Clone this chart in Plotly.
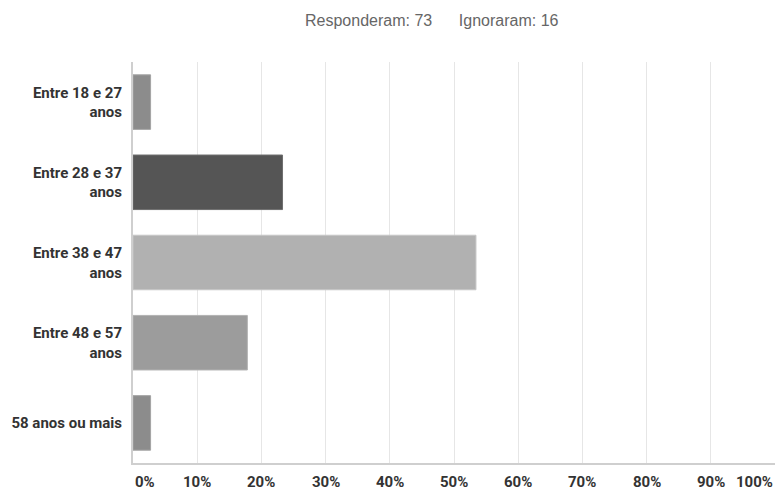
import plotly.graph_objects as go

categories = ["Entre 18 e 27<br>anos", "Entre 28 e 37<br>anos", "Entre 38 e 47<br>anos",
              "Entre 48 e 57<br>anos", "58 anos ou mais"]
values = [2.74, 23.29, 53.42, 17.81, 2.74]
bar_colors = ["#8c8c8c", "#555555", "#b1b1b1", "#9c9c9c", "#8c8c8c"]
border_colors = ["#a3a3a3", "#6e6e6e", "#c6c6c6", "#b2b2b2", "#a3a3a3"]
tick_vals = [0, 10, 20, 30, 40, 50, 60, 70, 80, 90, 100]
tick_text = ["0%", "10%", "20%", "30%", "40%", "50%", "60%", "70%", "80%", "90%", "100%"]
title_text = "Responderam: 73&nbsp;&nbsp;&nbsp;&nbsp;&nbsp;&nbsp;Ignoraram: 16"

fig = go.Figure()
fig.add_trace(go.Bar(
    x=values, y=categories, orientation="h",
    marker=dict(color=bar_colors, line=dict(color=border_colors, width=1)),
    width=0.68, hoverinfo="skip",
))

fig.update_layout(
    width=776, height=494,
    margin=dict(l=133, r=1, t=62, b=31, autoexpand=False),
    paper_bgcolor="white", plot_bgcolor="white",
    showlegend=False,
    font=dict(family="Roboto, Arial, sans-serif", color="#333333"),
)

fig.update_xaxes(
    range=[0, 100], tickvals=tick_vals, showticklabels=False,
    showgrid=True, gridcolor="#e6e6e6", gridwidth=1,
    zeroline=False, showline=True, linecolor="#cfcfcf", linewidth=2,
    fixedrange=True,
)
fig.update_yaxes(
    categoryorder="array", categoryarray=categories[::-1],
    autorange=False, range=[-0.5, 4.5],
    showgrid=False, zeroline=False, showline=True, linecolor="#cfcfcf", linewidth=2,
    ticks="", ticklabelstandoff=6,
    tickfont=dict(family="Roboto, Arial, sans-serif", size=15, color="#333333", weight="bold"),
)

for v, t in zip(tick_vals, tick_text):
    anchor = "left" if v == 0 else ("right" if v == 100 else "center")
    fig.add_annotation(
        x=v, y=0, xref="x", yref="paper", yshift=-30, text=t, showarrow=False,
        xanchor=anchor, yanchor="bottom",
        font=dict(family="Roboto, Arial, sans-serif", size=15, color="#333333", weight="bold"),
    )

fig.add_annotation(
    x=(432 - 133) / 642, y=1 + (62 - 20) / 401, xref="paper", yref="paper",
    text=title_text, showarrow=False, xanchor="center", yanchor="middle",
    font=dict(family="Liberation Sans, Arial, sans-serif", size=16, color="#666666"),
)

fig.write_html("out.html")
